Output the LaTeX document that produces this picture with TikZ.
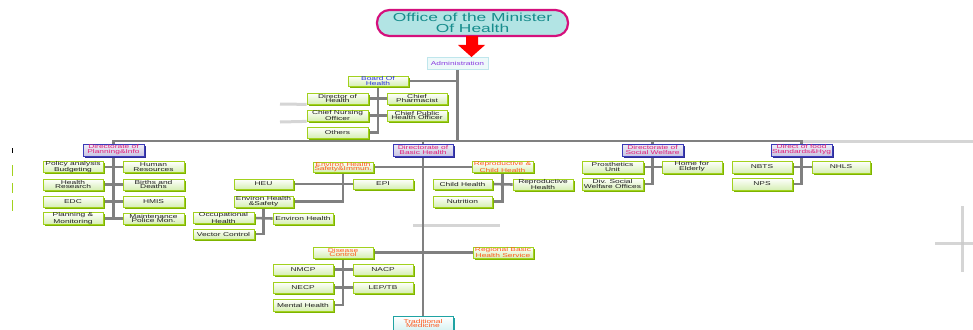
\documentclass[tikz,border=0pt]{standalone}
\usepackage{fontspec}
\setmainfont[FakeStretch=1.5]{Liberation Sans}
\usetikzlibrary{shadows,shapes.geometric}
\definecolor{conngray}{HTML}{808080}
\definecolor{fadegray}{HTML}{CACACA}
\definecolor{gborder}{HTML}{A2D11E}
\definecolor{gshadow}{HTML}{7DB400}
\definecolor{gfill}{HTML}{D6EFB4}
\definecolor{orangetxt}{HTML}{FF5A1E}
\definecolor{magtxt}{HTML}{E0207A}
\definecolor{bluetxt}{HTML}{2A34E0}
\definecolor{purpletxt}{HTML}{8A3BE0}
\definecolor{tealtxt}{HTML}{178C8C}
\definecolor{ellfill}{HTML}{B2E4E4}
\definecolor{ellborder}{HTML}{D4107C}
\definecolor{dborder}{HTML}{3A3AB8}
\definecolor{dshadow}{HTML}{2E2E96}
\definecolor{dfilltop}{HTML}{F0EEF8}
\definecolor{dfillbot}{HTML}{C8C4E2}
\definecolor{cyanborder}{HTML}{BFE6EC}
\definecolor{cyanfill}{HTML}{EEF9FA}
\definecolor{tmborder}{HTML}{1FA3A3}
\definecolor{tmfill}{HTML}{D8F2F2}
\definecolor{textdark}{HTML}{1E1E1E}
\pgfdeclarelayer{bg}
\pgfsetlayers{bg,main}
\tikzset{
  boxfont/.style={font=\fontsize{5.6}{4.9}\selectfont},
  gbox/.style={boxfont, draw=gborder, line width=0.8pt, top color=white, bottom color=gfill,
    inner sep=0pt, align=center, text=textdark,
    drop shadow={shadow xshift=1.6pt, shadow yshift=-1.6pt, fill=gshadow, opacity=1}},
  obox/.style={gbox, text=orangetxt},
  dbox/.style={boxfont, draw=dborder, line width=0.8pt, top color=dfilltop, bottom color=dfillbot,
    inner sep=0pt, align=center, text=magtxt,
    drop shadow={shadow xshift=1.6pt, shadow yshift=-1.6pt, fill=dshadow, opacity=1}},
  sz/.style 2 args={minimum width=#1pt, minimum height=#2pt},
  conn/.style={draw=conngray, line width=2.6pt},
  fade/.style={draw=fadegray, line width=3pt, opacity=0.8},
}
\begin{document}
\begin{tikzpicture}[x=1pt,y=-1pt]
\useasboundingbox (0,0) rectangle (973,329);
% top
\node[rectangle, rounded corners=12.5pt, draw=ellborder, line width=2.2pt, fill=ellfill, minimum width=191pt, minimum height=26pt, inner sep=0pt,
  align=center, text=tealtxt, font=\fontsize{11.6}{10.4}\selectfont] (minister) at (472.5,23) {Office of the Minister\\Of Health};
\fill[red] (466,36) -- (478,36) -- (478,45) -- (485,45) -- (471.5,57) -- (458,45) -- (466,45) -- cycle;
\node[boxfont, draw=cyanborder, line width=0.8pt, fill=cyanfill, text=purpletxt, inner sep=0pt, sz={61}{12}] (admin) at (457.5,63) {Administration};
\coordinate (bus) at (457.5,141);
% board
\node[gbox, text=bluetxt, sz={60}{10}] (board) at (378,81) {Board Of\\Health};
\node[gbox, sz={61}{11}] (doh) at (337.5,98.5) {Director of\\Health};
\node[gbox, sz={60}{11}] (pharm) at (417,98.5) {Chief\\Pharmacist};
\node[gbox, sz={61}{11}] (cno) at (337.5,115.5) {Chief Nursing\\Officer};
\node[gbox, sz={60}{11}] (cpho) at (417,115.5) {Chief Public\\Health Officer};
\node[gbox, sz={61}{11}] (others) at (337.5,132.5) {Others};
% directorates
\node[dbox, sz={61}{12}] (planning) at (113.5,150) {Directorate of\\Planning\&Info};
\node[dbox, sz={60}{12}] (basic) at (423,150) {Directorate of\\Basic Health};
\node[dbox, sz={61}{12}] (social) at (652.5,150) {Directorate of\\Social Welfare};
\node[dbox, sz={61}{12}] (food) at (801.5,150) {Direct of food\\Standards\&Hyg};
% planning children
\node[gbox, sz={60}{11}] (policy) at (73,167) {Policy analysis\\Budgeting};
\node[gbox, sz={61}{11}] (hr) at (153.5,167) {Human\\Resources};
\node[gbox, sz={60}{11}] (hres) at (73,184.5) {Health\\Research};
\node[gbox, sz={61}{11}] (births) at (153.5,184.5) {Births and\\Deaths};
\node[gbox, sz={60}{11}] (edc) at (73,201.5) {EDC};
\node[gbox, sz={61}{11}] (hmis) at (153.5,201.5) {HMIS};
\node[gbox, sz={60}{11}] (pm) at (73,218.5) {Planning \&\\Monitoring};
\node[gbox, sz={61}{11}] (maint) at (153.5,218.5) {Maintenance\\Police Mon.};
% environ
\node[obox, sz={60}{10}] (ehsi) at (343,167) {Environ Health\\Safety\&Immun.};
\node[gbox, sz={59}{10}] (heu) at (263.5,184) {HEU};
\node[gbox, sz={60}{10}] (epi) at (383,184) {EPI};
\node[gbox, sz={59}{11}] (ehs) at (263.5,201.5) {Environ Health\\\&Safety};
\node[gbox, sz={61}{11}] (occ) at (223.5,218) {Occupational\\Health};
\node[gbox, sz={60}{11}] (envh) at (303,218.5) {Environ Health};
\node[gbox, sz={61}{10}] (vector) at (223.5,234) {Vector Control};
% reproductive
\node[obox, sz={61}{10}] (rch) at (502.5,167) {Reproductive \&\\Child Health};
\node[gbox, sz={59}{10}] (child) at (462.5,184) {Child Health};
\node[gbox, sz={60}{11}] (repro) at (543,184.5) {Reproductive\\Health};
\node[gbox, sz={59}{11}] (nutrition) at (462.5,201.5) {Nutrition};
% social welfare
\node[gbox, sz={61}{12}] (prost) at (612.5,167) {Prosthetics\\Unit};
\node[gbox, sz={60}{12}] (home) at (692,167) {Home for\\Elderly};
\node[gbox, sz={61}{12}] (div) at (612.5,184) {Div. Social\\Welfare Offices};
% food
\node[gbox, sz={60}{12}] (nbts) at (762,167) {NBTS};
\node[gbox, sz={58}{12}] (nhls) at (841,167) {NHLS};
\node[gbox, sz={60}{12}] (nps) at (762,184) {NPS};
% disease
\node[obox, sz={60}{11}] (disease) at (343,252.5) {Disease\\Control};
\node[obox, sz={60}{11}] (regional) at (503,252.5) {Regional Basic\\Health Service};
\node[gbox, sz={60}{11}] (nmcp) at (303,269.5) {NMCP};
\node[gbox, sz={60}{11}] (nacp) at (383,269.5) {NACP};
\node[gbox, sz={60}{11}] (necp) at (303,287.5) {NECP};
\node[gbox, sz={60}{11}] (leptb) at (383,287.5) {LEP/TB};
\node[gbox, sz={60}{12}] (mental) at (303,305) {Mental Health};
\node[boxfont, draw=tmborder, line width=0.8pt, top color=white, bottom color=tmfill, text=orangetxt, align=center, inner sep=0pt,
  sz={60}{14}, drop shadow={shadow xshift=1.6pt, shadow yshift=-1.6pt, fill=tmborder, opacity=1}] (tm) at (423,323.5) {Traditional\\Medicine};
% connectors
\begin{pgfonlayer}{bg}
\draw[fade] (food.north |- bus) -- (973,141);
\draw[fade] (280,104) -- (doh.south west);
\draw[fade] (280,122) -- (cno.south west);
\draw[fade] (413,225) -- (500,225);
\draw[fade] (962,206) -- (962,272);
\draw[fade] (935,243) -- (973,243);
\draw[gborder, line width=1pt] (12,165) -- (12,176) (12,183) -- (12,193) (12,200) -- (12,211);
\draw[black, line width=1pt] (12,148) -- (12,153);
\draw[conn] (admin.south) -- (bus);
\draw[conn] (planning.north) |- (bus) -| (food.north);
\draw[conn] (basic.north) -- (basic.north |- bus);
\draw[conn] (social.north) -- (social.north |- bus);
\draw[conn] (board.east) -- (board.east -| admin.south);
\draw[conn] (board.south) |- (others.east);
\draw[conn] (doh.east) -- (pharm.west);
\draw[conn] (cno.east) -- (cpho.west);
\draw[conn] (planning.south) |- (pm.east);
\draw[conn] (policy.east) -- (hr.west);
\draw[conn] (hres.east) -- (births.west);
\draw[conn] (edc.east) -- (hmis.west);
\draw[conn] (pm.east) -- (maint.west);
\draw[conn] (basic.south) -- (tm.north);
\draw[conn] (ehsi.east) -- (ehsi.east -| basic.south);
\draw[conn] (ehsi.south) |- (ehs.east);
\draw[conn] (heu.east) -- (epi.west);
\draw[conn] (ehs.south) |- (vector.east);
\draw[conn] (occ.east) -- (envh.west);
\draw[conn] (rch.west) -- (rch.west -| basic.south);
\draw[conn] (rch.south) |- (nutrition.east);
\draw[conn] (child.east) -- (repro.west);
\draw[conn] (social.south) |- (div.east);
\draw[conn] (prost.east) -- (home.west);
\draw[conn] (food.south) |- (nps.east);
\draw[conn] (nbts.east) -- (nhls.west);
\draw[conn] (disease.east) -- (regional.west);
\draw[conn] (disease.south) |- (mental.east);
\draw[conn] (nmcp.east) -- (nacp.west);
\draw[conn] (necp.east) -- (leptb.west);
\end{pgfonlayer}
\end{tikzpicture}
\end{document}
